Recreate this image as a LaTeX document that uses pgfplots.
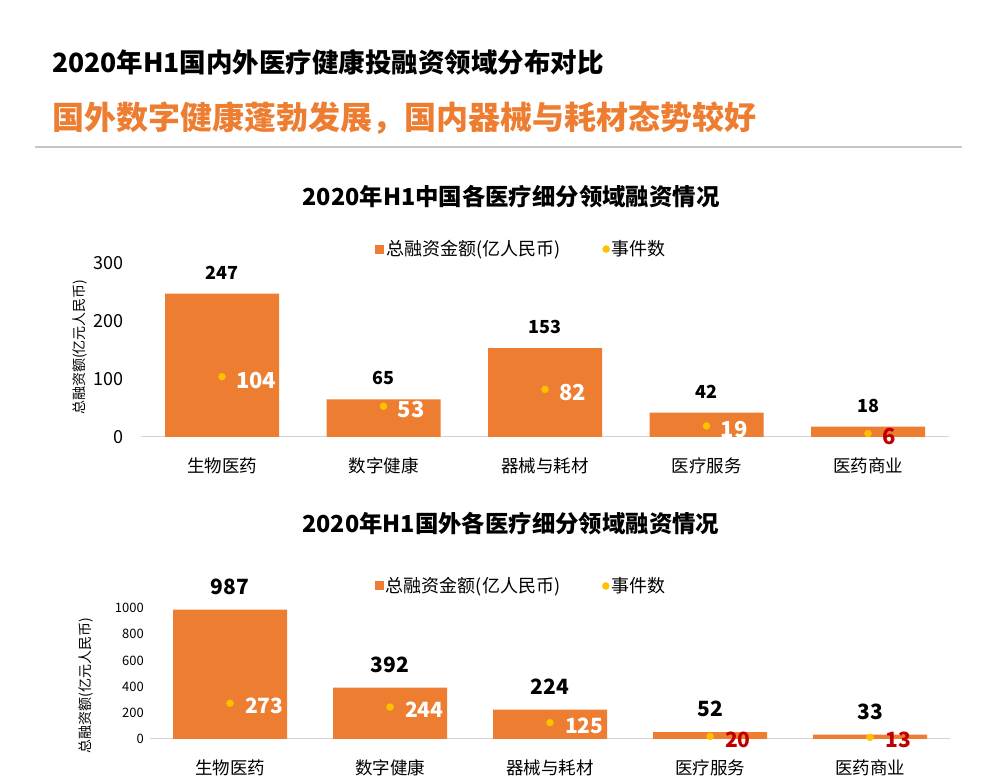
\documentclass[border=0pt]{standalone}
\usepackage{fontspec}
\setmainfont{Noto Sans CJK SC}
\usepackage{pgfplots}
\pgfplotsset{compat=1.18}
\definecolor{barorange}{HTML}{ED7D31}
\definecolor{dotgold}{HTML}{FFC000}
\definecolor{numred}{HTML}{C00000}
\newcommand{\fs}[1]{\fontsize{#1bp}{#1bp}\selectfont}

\pgfplotsset{
  vcchart/.style={
    scale only axis, clip=false,
    xmin=-0.5, xmax=4.5, ymin=0,
    xtick={0,...,4},
    xticklabels={生物医药,数字健康,器械与耗材,医疗服务,医药商业},
    axis line style={draw=none}, major tick length=0pt,
    scaled y ticks=false,
    /pgf/number format/assume math mode=true,
    /pgf/number format/1000 sep={},
    xticklabel style={font=\fs{17.5}, anchor=center, yshift=-29bp},
    legend columns=-1,
    legend style={draw=none, fill=none, font=\fs{18}, anchor=center,
      /tikz/every even column/.append style={column sep=40bp}},
    every axis y label/.style={rotate=90, anchor=center, font=\fs{14}},
    title style={font=\bfseries\fs{23.4}, anchor=center},
  },
  barleg/.style={legend image code/.code={\fill[barorange] (0bp,-4.5bp) rectangle (9bp,4.5bp);}},
  dotleg/.style={legend image code/.code={\fill[dotgold] (3.5bp,0bp) circle (3.5bp);}},
}

\begin{document}
\begin{tikzpicture}[x=1bp,y=1bp]
\path[use as bounding box, fill=white] (0,0) rectangle (990,784);
\node[anchor=west, inner sep=0pt, font=\bfseries\fs{26.5}] at (52,722) {2020年H1国内外医疗健康投融资领域分布对比};
\node[anchor=west, inner sep=0pt, font=\bfseries\fs{32}, text=barorange] at (52,666) {国外数字健康蓬勃发展，国内器械与耗材态势较好};
\draw[gray!45, line width=1.2bp] (35,637) -- (962,637);

% domestic
\begin{axis}[vcchart, at={(141.25bp,347bp)}, anchor=south west,
  width=807.5bp, height=174bp, ymax=300, ytick={0,100,200,300},
  yticklabel style={font=\fs{18}, anchor=east, inner sep=0pt, xshift=-18bp},
  ylabel={总融资额(亿元人民币)},
  ylabel style={at={(axis description cs:-0.076,0.517)}},
  title={2020年H1中国各医疗细分领域融资情况},
  title style={at={(axis description cs:0.458,1.345)}},
  legend style={at={(axis description cs:0.471,1.08)}}]
\draw[gray!35, line width=1bp] (axis cs:-0.5,0) -- (axis cs:4.5,0);
\addplot[ybar, bar width=114bp, fill=barorange, draw=none, barleg,
  nodes near coords,
  every node near coord/.append style={font=\bfseries\fs{18}, text=black, anchor=center, yshift=21bp}]
  coordinates {(0,247) (1,65) (2,153) (3,42) (4,18)};
\addlegendentry{总融资金额(亿人民币)}
\addplot[only marks, mark=*, mark size=3.5bp, color=dotgold, dotleg,
  nodes near coords,
  every node near coord/.append style={font=\bfseries\fs{22}, text=white, anchor=west, inner sep=0pt, xshift=14bp, yshift=-3.5bp}]
  coordinates {(0,104) (1,53) (2,82) (3,19)};
\addlegendentry{事件数}
\addplot[only marks, mark=*, mark size=3.5bp, color=dotgold, forget plot,
  nodes near coords,
  every node near coord/.append style={font=\bfseries\fs{22}, text=numred, anchor=west, inner sep=0pt, xshift=14bp, yshift=-3.5bp}]
  coordinates {(4,6)};
\end{axis}

% overseas
\begin{axis}[vcchart, at={(150bp,45bp)}, anchor=south west,
  width=800bp, height=131bp, ymax=1000, ytick={0,200,400,600,800,1000},
  yticklabel style={font=\fs{13}, anchor=east, inner sep=0pt, xshift=-6bp},
  ylabel={总融资额(亿元人民币)},
  ylabel style={at={(axis description cs:-0.08,0.405)}},
  title={2020年H1国外各医疗细分领域融资情况},
  title style={at={(axis description cs:0.451,1.595)}},
  legend style={at={(axis description cs:0.464,1.168)}}]
\draw[gray!35, line width=1bp] (axis cs:-0.5,0) -- (axis cs:4.5,0);
\addplot[ybar, bar width=114bp, fill=barorange, draw=none, barleg,
  nodes near coords,
  every node near coord/.append style={font=\bfseries\fs{21}, text=black, anchor=center, yshift=23bp}]
  coordinates {(0,987) (1,392) (2,224) (3,52) (4,33)};
\addlegendentry{总融资金额(亿人民币)}
\addplot[only marks, mark=*, mark size=3.5bp, color=dotgold, dotleg,
  nodes near coords,
  every node near coord/.append style={font=\bfseries\fs{21}, text=white, anchor=west, inner sep=0pt, xshift=15bp, yshift=-3bp}]
  coordinates {(0,273) (1,244) (2,125)};
\addlegendentry{事件数}
\addplot[only marks, mark=*, mark size=3.5bp, color=dotgold, forget plot,
  nodes near coords,
  every node near coord/.append style={font=\bfseries\fs{21}, text=numred, anchor=west, inner sep=0pt, xshift=15bp, yshift=-3bp}]
  coordinates {(3,20) (4,13)};
\end{axis}
\end{tikzpicture}
\end{document}
